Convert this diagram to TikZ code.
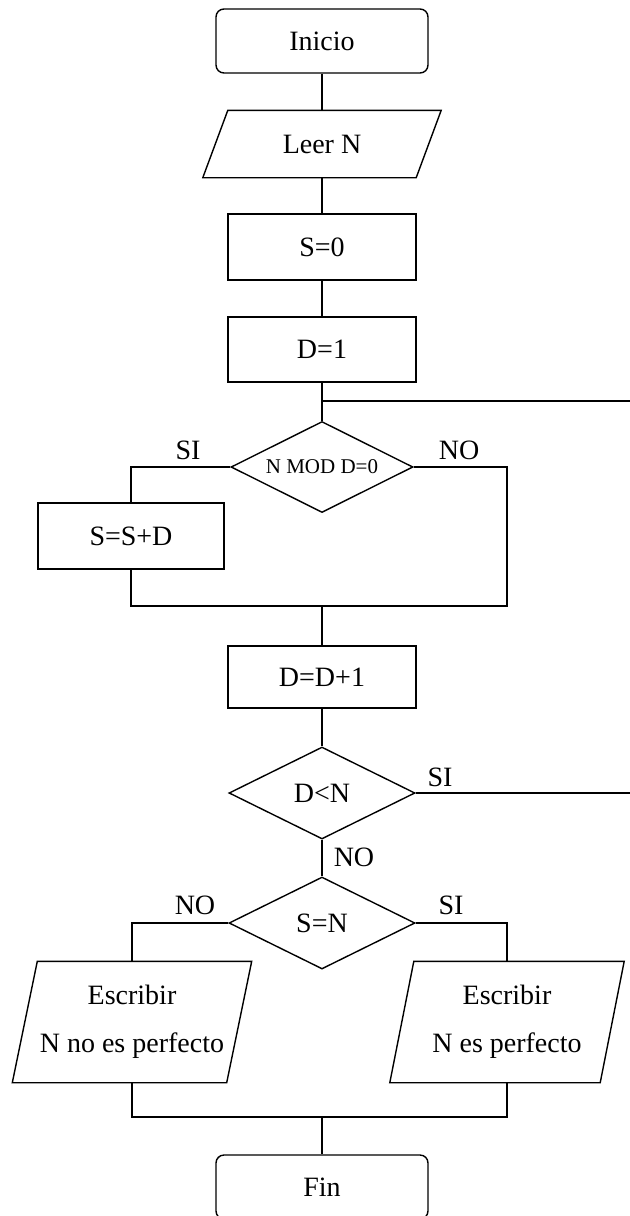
\documentclass[tikz,border=0pt]{standalone}
\usepackage{fontspec}
\setmainfont{Liberation Serif}
\usetikzlibrary{shapes.geometric}

% parallelogram drawn round a plain node: #1 node, #2 half slant
\newcommand{\paralelo}[2]{%
	\draw ([xshift=#2]#1.north west) -- ([xshift=#2]#1.north east) -- ([xshift=-#2]#1.south east) -- ([xshift=-#2]#1.south west) -- cycle;}

\begin{document}
\begin{tikzpicture}[x=0.5pt, y=-0.5pt, line width=0.7pt,
		every node/.style={font=\fontsize{14}{24}\selectfont, inner sep=0pt},
		terminal/.style={draw, rectangle, rounded corners=4pt, minimum width=106pt, minimum height=32pt},
		proceso/.style={draw, rectangle, minimum width=94pt, minimum height=33pt},
		entrada/.style={rectangle, align=center, minimum height=33pt},
		decision/.style={draw, diamond, aspect=2, minimum width=93pt, minimum height=46pt},
		etiqueta/.style={anchor=base}]
			\useasboundingbox (0,0) rectangle (630,1216);
			\clip (0,0) rectangle (630,1216);
			
			\node[terminal] (ini) at (322,41) {Inicio};
			\node[entrada, minimum width=106pt] (leer) at (322,144) {Leer N};
			\paralelo{leer}{6.25pt}
			\node[proceso] (s0) at (322,247) {S=0};
			\node[proceso, minimum height=32.5pt] (d1) at (322,349.5) {D=1};
			\coordinate (j1) at (322,401);
			\node[decision, minimum width=91pt, minimum height=45.5pt, font=\fontsize{10.5}{12}\selectfont] (mod) at (322,467) {N MOD D=0};
			\node[proceso, minimum width=93pt] (ssd) at (131,536) {S=S+D};
			\coordinate (m2r) at (507,606);
			\node[proceso, minimum height=31pt] (dd) at (322,677) {D=D+1};
			\node[decision] (dn) at (322,793) {D<N};
			\coordinate (lazo) at (640,401);
			\node[decision] (sn) at (322,923) {S=N};
			\node[entrada, minimum width=106.5pt, minimum height=60pt] (no) at (132,1022) {Escribir\\N no es perfecto};
			\paralelo{no}{6.25pt}
			\node[entrada, minimum width=104.5pt, minimum height=60pt] (si) at (507,1022) {Escribir\\N es perfecto};
			\paralelo{si}{6pt}
			\coordinate (m3r) at (507,1117);
			\node[terminal] (fin) at (322,1187) {Fin};
			
			\node[etiqueta] (lsi1) at (188,459) {SI};
			\node[etiqueta] (lno1) at (459,459) {NO};
			\node[etiqueta] (lsi2) at (440,786) {SI};
			\node[etiqueta] (lno2) at (354,866) {NO};
			\node[etiqueta] (lno3) at (195,914) {NO};
			\node[etiqueta] (lsi3) at (451,914) {SI};
			
			\draw (ini) -- (leer);
			\draw (leer) -- (s0);
			\draw (s0) -- (d1);
			\draw (d1) -- (mod);
			\draw (mod.west) -| (ssd.north);
			\draw (ssd.south) |- (m2r) |- (mod.east);
			\draw (dd.north |- m2r) -- (dd.north);
			\draw (dd) -- (dn);
			\draw (dn.east) -| (lazo) -- (j1);
			\draw (dn) -- (sn);
			\draw (sn.west) -| (no.north);
			\draw (sn.east) -| (si.north);
			\draw (no.south) |- (m3r) -- (si.south);
			\draw (fin.north |- m3r) -- (fin.north);
			
			\end{tikzpicture}
\end{document}
